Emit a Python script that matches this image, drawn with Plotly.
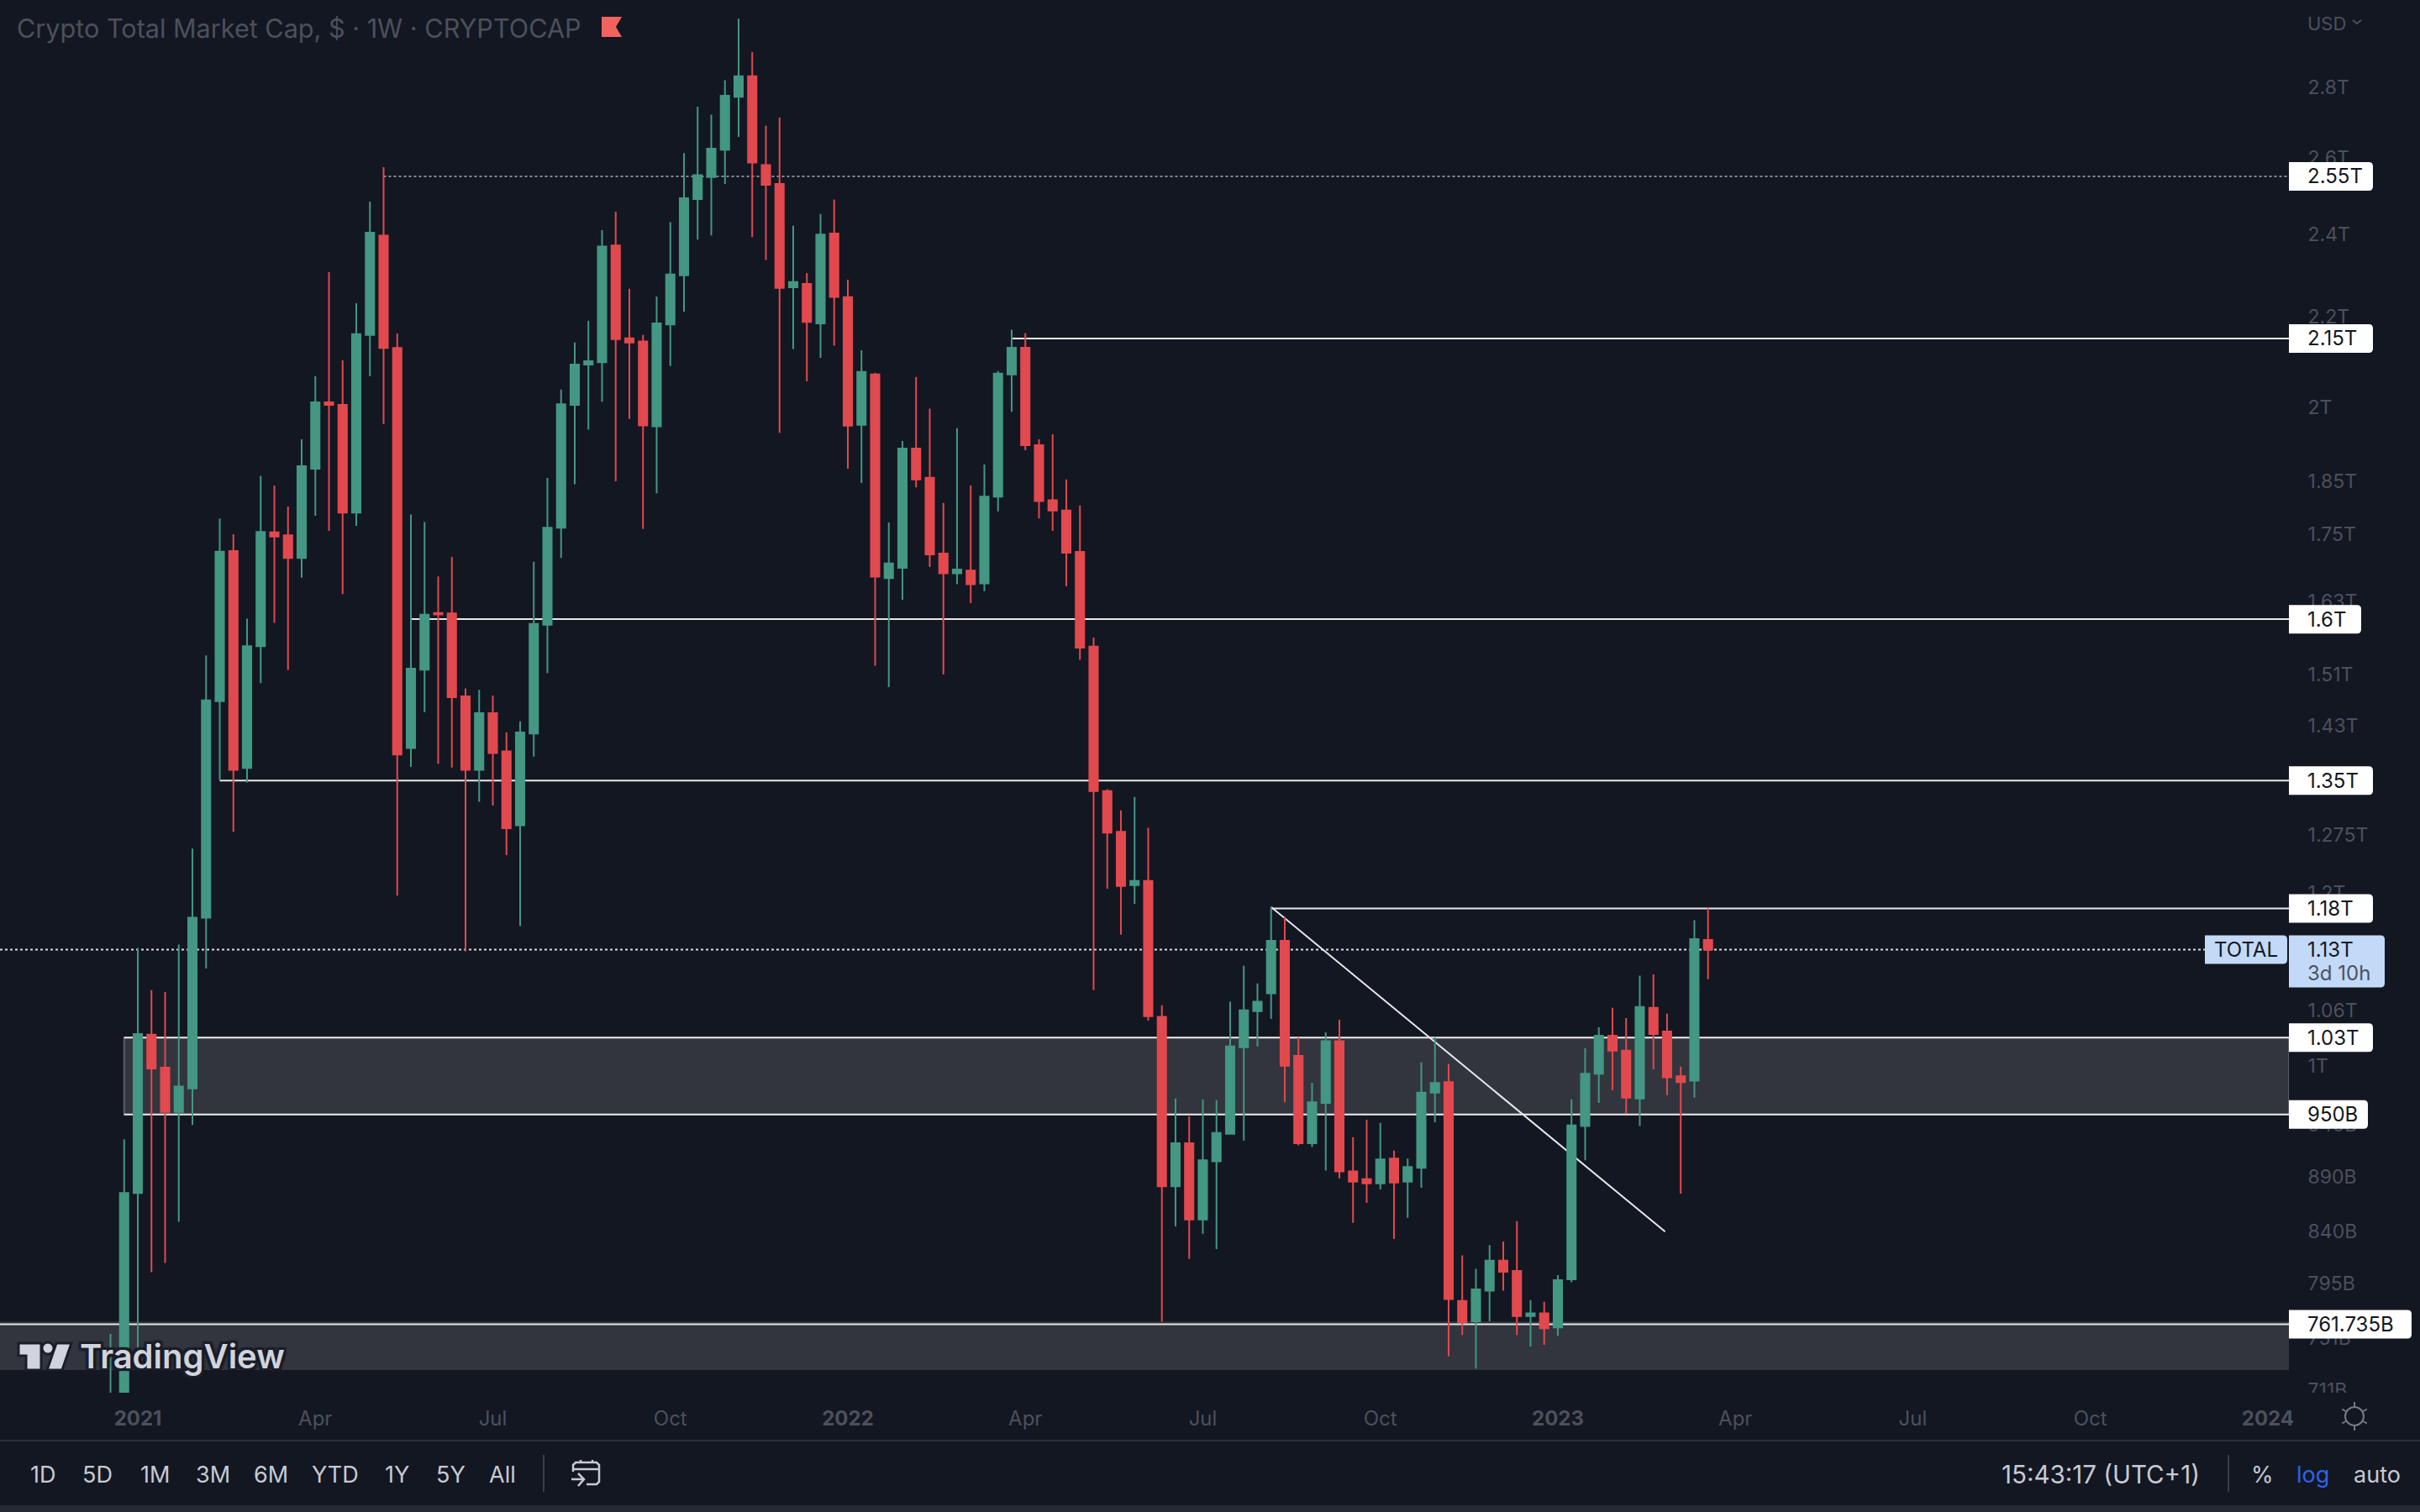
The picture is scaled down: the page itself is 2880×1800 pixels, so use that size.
import math
import pandas as pd
import plotly.graph_objects as go

# weekly candles in billions of USD, first week is 2020-12-21
first_week = "2020-12-21"
opens = [640, 705, 874.7, 1033.1, 998, 952.4, 976.4, 1168.6, 1467.8, 1718.8, 1368.1, 1555, 1753.1, 1747.7, 1706.6, 1874.7,
         2010, 2004.8, 1789.9, 2157.8, 2395.8, 2128.4, 1397.2, 1517.2, 1610.5, 1609.8, 1475.2, 1365.4, 1449.4, 1392, 1288,
         1418.5, 1590.5, 1761.8, 2004.8, 2091.8, 2096.9, 2370.8, 2150.3, 2143, 1960, 2181.9, 2297.5, 2489.6, 2548.2, 2622.5,
         2772.6, 2833.2, 2580.2, 2529.5, 2268.8, 2276.8, 2184.1, 2400.8, 2245.3, 1963.2, 2070.3, 1670.7, 1688.7, 1914.6,
         1856.7, 1714.4, 1679.2, 1684, 1661.4, 1820.1, 2070.3, 2128.8, 1921.5, 1813.2, 1793.9, 1717.5, 1554.3, 1335.3, 1279.1,
         1209.2, 1214.7, 1052.7, 880.9, 921.6, 850.5, 904.3, 930.8, 1019.6, 1059.1, 1079.3, 1140.5, 1010.4, 921.6, 961.5,
         1026.1, 894.7, 887.4, 883.6, 906.9, 885.2, 898.1, 972, 982.9, 780.7, 764.1, 789.1, 814.5, 805.7, 768.4, 770.5,
         759.2, 798.6, 938.4, 991.6, 1032, 1016, 966, 1062.8, 1036.6, 988.9, 984.3, 1141.5]
highs = [754, 925.5, 1131.9, 1082.8, 1080.6, 1135.9, 1256.7, 1540.2, 1778.9, 1749.6, 1600.8, 1860.3, 1841.1, 1801.4, 1933.2, 2066.6,
         2305.5, 2101, 2231.1, 2483.3, 2574.7, 2161.4, 1786.5, 1772.3, 1673.5, 1708.3, 1487.6, 1485.4, 1476.6, 1420.2, 1436.8,
         1699.6, 1856.5, 2037.2, 2140.8, 2189.9, 2409.5, 2457, 2265.4, 2157.8, 2247.1, 2429.6, 2613, 2744, 2720.7, 2821.2,
         3010.3, 2906.3, 2689.3, 2712.6, 2420.8, 2303.3, 2450.9, 2488.3, 2286.9, 2123.2, 2073.9, 1771.3, 1930, 2064.6,
         1996.7, 1808.1, 1956.4, 1841.5, 1883, 2077.6, 2169.9, 2162, 1933.3, 1943.5, 1853.3, 1803.3, 1569.3, 1337.7, 1308.4,
         1327, 1284.5, 1065.8, 966, 948, 965.2, 964.4, 1069.8, 1110.9, 1090.4, 1181.8, 1169.8, 1030.2, 982, 1035.7,
         1049.5, 927.5, 944.7, 941.7, 914.5, 906.9, 1003.5, 1030.2, 1001.7, 819, 807.5, 827.9, 831, 849, 781.4, 780,
         802.2, 965.2, 1018.7, 1041.2, 1062.8, 1051.3, 1099.3, 1100.9, 1056.4, 999, 1165.4, 1180.2]
lows = [620, 680, 742.9, 804.6, 812.5, 848.6, 939.6, 1107.7, 1350.5, 1279.2, 1347.2, 1495.7, 1593.7, 1516.5, 1671.5, 1783.8,
        1755.7, 1642.7, 1765.3, 2066.6, 1964.7, 1196.4, 1369.4, 1450.9, 1374.1, 1368.7, 1128, 1320.3, 1315, 1248.1, 1158.4,
        1384.4, 1511.8, 1706.6, 1844, 1953.2, 2011.3, 1849.8, 1975.4, 1759.2, 1826.8, 2088.5, 2211.6, 2385.8, 2396, 2529.5,
        2657.7, 2392.1, 2335.2, 1946.5, 2126.2, 2055.1, 2106.4, 2133.5, 1874.5, 1846.5, 1523.5, 1489.4, 1632.9, 1837.9,
        1690.3, 1509.6, 1660, 1627.1, 1647.9, 1792.3, 1990.2, 1911.3, 1779, 1755.7, 1656.7, 1532.9, 1082.8, 1204.8, 1147.9,
        1185.7, 1048.6, 763.8, 844.4, 815.9, 837.9, 824.4, 930, 924.1, 1020.6, 1050.4, 962.3, 919.6, 917.9, 895.5,
        888.2, 847.5, 865.5, 877.8, 833.3, 852.1, 879.4, 942.2, 736.5, 753.2, 727.1, 764.1, 789.1, 753.2, 744.2, 745.5,
        752.5, 796.2, 905.2, 961.5, 974.6, 950.6, 938.4, 996.2, 969.4, 874, 967, 1095.4]
closes = [700, 874.7, 1034, 997.1, 952.4, 978.4, 1168.6, 1468.8, 1717.9, 1365.4, 1555, 1754, 1745.3, 1706.6, 1879.4, 2010.1,
          2004.8, 1789.9, 2160, 2403.4, 2128.4, 1387.6, 1518.9, 1607.4, 1608.1, 1473.7, 1365.4, 1449.4, 1389.8, 1283.9, 1420.2,
          1592, 1761.8, 2005.9, 2091.8, 2099, 2368.4, 2148.3, 2140.8, 1961.9, 2184.1, 2299.7, 2492, 2553.2, 2625.1, 2775.4,
          2833.2, 2587.1, 2527.1, 2267.6, 2281.4, 2187.6, 2398.4, 2245.9, 1961.5, 2075.7, 1673.2, 1696.5, 1914.6, 1853.3,
          1713, 1679.2, 1685.7, 1659.9, 1820.1, 2072.1, 2128.8, 1921.5, 1811.6, 1793.9, 1715.9, 1552.9, 1335.3, 1278, 1208.1,
          1214.7, 1053.6, 880.9, 921.6, 850.5, 905.2, 931.7, 1020.6, 1060, 1069.8, 1140.5, 999.9, 921.6, 962.3, 1026.1,
          894.7, 885.2, 883.6, 906, 884.3, 898.9, 972, 982, 782.2, 763.5, 790.2, 814.5, 805, 768.4, 770.5, 758.6,
          798, 939.2, 991.6, 1032, 1016, 967, 1063.8, 1033.9, 987.9, 982.9, 1142.4, 1130]

tick_dates = ["2021-01-04", "2021-04-05", "2021-07-05", "2021-10-04", "2022-01-03", "2022-04-04",
              "2022-07-04", "2022-10-03", "2023-01-02", "2023-04-03", "2023-07-03", "2023-10-02", "2024-01-01"]
tick_names = ["<b>2021</b>", "Apr", "Jul", "Oct", "<b>2022</b>", "Apr", "Jul", "Oct", "<b>2023</b>", "Apr", "Jul", "Oct", "<b>2024</b>"]
price_ticks = [2800, 2600, 2400, 2200, 2000, 1850, 1750, 1630, 1510, 1430, 1275, 1200, 1060, 1000, 940, 890, 840, 795, 751, 711]
price_names = ["2.8T", "2.6T", "2.4T", "2.2T", "2T", "1.85T", "1.75T", "1.63T", "1.51T", "1.43T", "1.275T", "1.2T",
               "1.06T", "1T", "940B", "890B", "840B", "795B", "751B", "711B"]

level_values = [2550, 2150, 1600, 1350, 1180, 1030, 950, 761.735]
level_names = ["2.55T", "2.15T", "1.6T", "1.35T", "1.18T", "1.03T", "950B", "761.735B"]
level_starts = ["2021-05-10", "2022-03-28", "2021-05-24", "2021-02-15", "2022-08-08", "2020-12-28", "2020-12-28", "2020-10-25"]
last_price = 1130
trend_dates = ["2022-08-08", "2023-02-26"]
trend_values = [1181.8, 839.8]
zone_low = 726
zone_high = 764

BG = "#131722"
GREEN = "#439783"
RED = "#E2494E"
ZONE = "#32353D"
MUTED = "#4C505C"
LIGHT = "#C8CAD2"
FONT = "Inter"
W, H = 2880, 1800
PW, PH = 2724, 1658  # plot area in pixels

x_left, x_right = "2020-10-25 08:24", "2024-01-11 19:00"
dates = pd.date_range(first_week, periods=len(opens), freq="7D")


def xp(x):
    return x / PW


def yp(y):
    return 1 - y / PH


def path(points, close=True):
    s = "M " + " L ".join(f"{xp(x):.5f} {yp(y):.5f}" for x, y in points)
    return s + (" Z" if close else "")


def tag(x0, x1, y0, y1, color):
    # label box with rounded right corners
    r = 5
    s = (f"M {xp(x0):.5f} {yp(y0):.5f} L {xp(x1 - r):.5f} {yp(y0):.5f} "
         f"Q {xp(x1):.5f} {yp(y0):.5f} {xp(x1):.5f} {yp(y0 + r):.5f} "
         f"L {xp(x1):.5f} {yp(y1 - r):.5f} Q {xp(x1):.5f} {yp(y1):.5f} {xp(x1 - r):.5f} {yp(y1):.5f} "
         f"L {xp(x0):.5f} {yp(y1):.5f} Z")
    return dict(type="path", path=s, xref="paper", yref="paper", fillcolor=color, line_width=0, layer="above")


def y_of(value):
    return 210 + math.log(2550 / value) * 1131


def note(text, x, y, size=24, color=MUTED, anchor="left", **font_extra):
    font = dict(family=FONT, size=size, color=color, **font_extra)
    return dict(text=text, x=xp(x), y=yp(y), xref="paper", yref="paper", showarrow=False,
                xanchor=anchor, yanchor="middle", font=font)


def stroke(points, line, close=False, fill=None):
    s = dict(type="path", xref="paper", yref="paper", layer="above", line=line, path=path(points, close))
    if fill:
        s["fillcolor"] = fill
    return s


fig = go.Figure(go.Candlestick(
    x=dates, open=opens, high=highs, low=lows, close=closes,
    increasing=dict(line=dict(color=GREEN, width=2), fillcolor=GREEN),
    decreasing=dict(line=dict(color=RED, width=2), fillcolor=RED),
    whiskerwidth=0, hoverinfo="skip", showlegend=False,
))

shapes = []
# zones under the candles
shapes.append(dict(type="rect", xref="x", yref="y", x0=level_starts[5], x1=x_right, y0=level_values[6], y1=level_values[5],
                   fillcolor=ZONE, line=dict(color="#5A5D66", width=2), layer="below"))
shapes.append(dict(type="rect", xref="x", yref="y", x0=x_left, x1=x_right, y0=zone_low, y1=zone_high,
                   fillcolor=ZONE, line_width=0, layer="below"))
# horizontal levels
for i, (start, val) in enumerate(zip(level_starts, level_values)):
    line = dict(color="#E8E8EA", width=2)
    if i == 0:
        line = dict(color="#868993", width=2, dash="dot")
    shapes.append(dict(type="line", xref="x", yref="y", x0=start, x1=x_right, y0=val, y1=val, line=line, layer="below"))
shapes.append(dict(type="line", xref="x", yref="y", x0=x_left, x1="2023-12-01", y0=last_price, y1=last_price,
                   line=dict(color="#D8DAE0", width=2, dash="dot"), layer="below"))
shapes.append(dict(type="line", xref="x", yref="y", x0=trend_dates[0], x1=trend_dates[1], y0=trend_values[0], y1=trend_values[1],
                   line=dict(color="#E8E8EA", width=2), layer="below"))

annotations = []
# value tags on the price scale
tag_right = {"1.6T": 2810, "950B": 2818, "761.735B": 2870}
for val, name in zip(level_values, level_names):
    yc = y_of(val)
    shapes.append(tag(2724, tag_right.get(name, 2824), yc - 17, yc + 17, "#FFFFFF"))
    annotations.append(note(name, 2744, yc, color="#131722"))

yc = y_of(last_price)
shapes.append(tag(2624, 2722, yc - 17, yc + 17, "#C3D9F8"))
shapes.append(tag(2724, 2838, yc - 17, yc + 45, "#C3D9F8"))
annotations.append(note("TOTAL", 2673, yc, color="#131722", anchor="center"))
annotations.append(note("1.13T", 2744, yc, color="#131722"))
annotations.append(note("3d 10h", 2744, yc + 28, color="#4C525E"))

# bottom of the window
shapes.append(dict(type="rect", xref="paper", yref="paper", x0=0, x1=W / PW, y0=yp(H), y1=yp(1792),
                   fillcolor="#262A35", line_width=0, layer="above"))
shapes.append(dict(type="line", xref="paper", yref="paper", x0=0, x1=W / PW, y0=yp(1715), y1=yp(1715),
                   line=dict(color="#2A2E39", width=2), layer="above"))
for sx in [647, 2652]:
    shapes.append(dict(type="line", xref="paper", yref="paper", x0=xp(sx), x1=xp(sx), y0=yp(1732), y1=yp(1776),
                       line=dict(color="#3A3E49", width=2), layer="above"))

# cover for the clipped 711B label
shapes.append(dict(type="rect", xref="paper", yref="paper", x0=2724 / PW, x1=W / PW, y0=yp(1668), y1=yp(PH),
                   fillcolor=BG, line_width=0, layer="above"))

# calendar icon
icon = dict(color=LIGHT, width=2.5)
shapes.append(stroke([(682, 1752), (682, 1744), (685, 1741), (710, 1741), (713, 1744), (713, 1764), (710, 1767), (698, 1767)], icon))
shapes.append(stroke([(682, 1749), (713, 1749)], icon))
shapes.append(stroke([(691, 1738), (691, 1741)], icon))
shapes.append(stroke([(705, 1738), (705, 1741)], icon))
shapes.append(stroke([(680, 1761), (695, 1761)], icon))
shapes.append(stroke([(688, 1754), (695, 1761), (688, 1769)], icon))
# sun icon
sun = dict(color="#787B86", width=2)
shapes.append(dict(type="circle", xref="paper", yref="paper", layer="above", line=sun,
                   x0=xp(2791), x1=xp(2813), y0=yp(1697), y1=yp(1675)))
for a in range(0, 360, 60):
    ca, sa = math.cos(math.radians(a + 30)), math.sin(math.radians(a + 30))
    shapes.append(dict(type="line", xref="paper", yref="paper", layer="above", line=sun,
                       x0=xp(2802 + 12 * ca), x1=xp(2802 + 17 * ca), y0=yp(1686 + 12 * sa), y1=yp(1686 + 17 * sa)))
# chevron beside USD
shapes.append(stroke([(2800, 24), (2805, 28), (2810, 24)], dict(color=MUTED, width=2)))
# flag beside the title
shapes.append(stroke([(716, 20), (740, 20), (733, 32), (740, 44), (716, 44)], dict(width=0), close=True, fill="#F2635F"))
# TradingView mark, stroke sits half inside so the outline is drawn a little larger
mark = dict(color="#1B1E29", width=3)
ink = "#D1D4DC"
shapes.append(stroke([(22, 1599), (49, 1599), (49, 1631), (31, 1631), (31, 1614), (22, 1614)], mark, close=True, fill=ink))
shapes.append(dict(type="circle", xref="paper", yref="paper", layer="above", fillcolor=ink, line=mark,
                   x0=xp(50), x1=xp(64), y0=yp(1612), y1=yp(1598)))
shapes.append(stroke([(67, 1599), (85, 1599), (74, 1631), (56, 1631)], mark, close=True, fill=ink))

annotations.append(note("Crypto Total Market Cap, $ · 1W · CRYPTOCAP", 18, 33, size=30.6))
annotations.append(note("USD", 2744, 28, size=22))
outline = ",".join(f"{dx}px {dy}px 1px #1B1E29" for dx in (-3, 0, 3) for dy in (-3, 0, 3))
annotations.append(note("TradingView", 93, 1614, size=40, color=ink, weight=600, shadow=outline))
for name, cx in zip(["1D", "5D", "1M", "3M", "6M", "YTD", "1Y", "5Y", "All"], [51, 116, 184, 253, 322, 399, 473, 536, 598]):
    annotations.append(note(name, cx, 1755, size=27, color=LIGHT, anchor="center"))
annotations.append(note("15:43:17 (UTC+1)", 2499.5, 1755, size=29.5, color=LIGHT, anchor="center"))
annotations.append(note("%", 2692, 1755, size=27, color=LIGHT, anchor="center"))
annotations.append(note("log", 2753, 1755, size=27, color="#2F62E8", anchor="center"))
annotations.append(note("auto", 2829, 1755, size=27, color=LIGHT, anchor="center"))

fig.update_layout(
    width=W, height=H,
    margin=dict(l=0, r=W - PW, t=0, b=H - PH),
    paper_bgcolor=BG, plot_bgcolor=BG,
    boxgap=0.38, boxgroupgap=0,
    shapes=shapes, annotations=annotations,
    xaxis=dict(type="date", range=[x_left, x_right], rangeslider=dict(visible=False), showgrid=False, zeroline=False,
               showline=False, tickvals=tick_dates, ticktext=tick_names, ticks="outside", ticklen=9, tickcolor=BG,
               tickfont=dict(family=FONT, size=24, color=MUTED)),
    yaxis=dict(type="log", side="right", range=[math.log10(708.8), math.log10(3070)], showgrid=False, zeroline=False,
               showline=False, tickvals=price_ticks, ticktext=price_names, ticks="outside", ticklen=17, tickcolor=BG,
               tickfont=dict(family=FONT, size=23, color=MUTED)),
)

fig.write_html("out.html", config=dict(displayModeBar=False), post_script="document.body.style.margin='0';")
